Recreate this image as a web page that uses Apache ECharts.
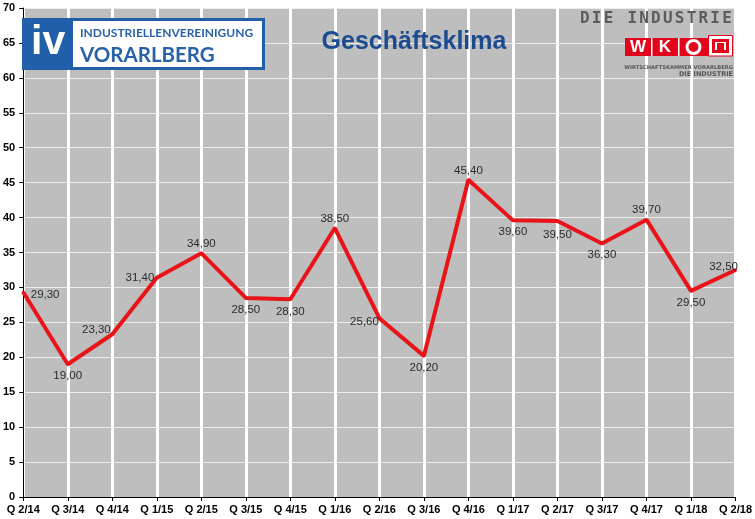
<!DOCTYPE html>
<html>
<head>
<meta charset="utf-8">
<script src="https://cdn.jsdelivr.net/npm/echarts@6/dist/echarts.min.js"></script>
<style>
html,body{margin:0;padding:0;background:#fff;}
#chart{width:755px;height:519px;}
</style>
</head>
<body>
<div id="chart"></div>
<script>
// ---- data ----
const categories = ['Q 2/14','Q 3/14','Q 4/14','Q 1/15','Q 2/15','Q 3/15','Q 4/15','Q 1/16','Q 2/16','Q 3/16','Q 4/16','Q 1/17','Q 2/17','Q 3/17','Q 4/17','Q 1/18','Q 2/18'];
const values = [29.3, 19.0, 23.3, 31.4, 34.9, 28.5, 28.3, 38.5, 25.6, 20.2, 45.4, 39.6, 39.5, 36.3, 39.7, 29.5, 32.5];
const yTicks = [0, 5, 10, 15, 20, 25, 30, 35, 40, 45, 50, 55, 60, 65, 70];
const titleText = 'Geschäftsklima';

// label placement (style only)
const labelPlacement = [
  {position:'right', offset:[2,3]},
  {position:'bottom', offset:[0,0]},
  {position:'left', offset:[4,-4]},
  {position:'left', offset:[3,0]},
  {position:'top', offset:[0,2]},
  {position:'bottom', offset:[0,0]},
  {position:'bottom', offset:[0,1]},
  {position:'top', offset:[0,2]},
  {position:'left', offset:[5,4]},
  {position:'bottom', offset:[0,0]},
  {position:'top', offset:[0,2]},
  {position:'bottom', offset:[0,0]},
  {position:'bottom', offset:[0,2]},
  {position:'bottom', offset:[0,0]},
  {position:'top', offset:[0,2]},
  {position:'bottom', offset:[0,0]},
  {position:'left', offset:[8,-3]}
];

const FONT = '"Liberation Sans", Arial, sans-serif';
const chart = echarts.init(document.getElementById('chart'), null, {renderer:'canvas'});

const seriesData = values.map((v, i) => ({
  value: v,
  label: {position: labelPlacement[i].position, offset: labelPlacement[i].offset}
}));

// WKO "DIE INDUSTRIE" spaced letters
const dieText = 'DIE INDUSTRIE';
const dieLetters = [];
for (let i = 0; i < dieText.length; i++) {
  if (dieText[i] === ' ') continue;
  dieLetters.push({
    type:'text', x: 580 + i*11.85, y: 19, z: 20,
    style:{text: dieText[i], font:'bold 16px "DejaVu Sans Mono", monospace', fill:'#5c5c5c', verticalAlign:'middle'}
  });
}

const graphics = [
  // IV logo
  {type:'rect', shape:{x:22, y:18, width:243, height:52}, style:{fill:'#2160a9'}, z:20},
  {type:'rect', shape:{x:73, y:21, width:189, height:46}, style:{fill:'#ffffff'}, z:21},
  {type:'text', x:31, y:43, z:22, style:{text:'iv', font:'bold 41px "Liberation Sans", Arial, sans-serif', fill:'#ffffff', verticalAlign:'middle'}},
  {type:'text', x:80, y:33, z:22, style:{text:'INDUSTRIELLENVEREINIGUNG', font:'bold 12px Lato, sans-serif', fill:'#2a62a8', verticalAlign:'middle'}},
  {type:'text', x:80, y:55, z:22, style:{text:'VORARLBERG', font:'bold 20.5px Lato, sans-serif', fill:'#2a62a8', verticalAlign:'middle'}},
  // WKO logo
  {type:'rect', shape:{x:625, y:38, width:83, height:18}, style:{fill:'#e3051b'}, z:20},
  {type:'rect', shape:{x:651, y:38, width:1.5, height:18}, style:{fill:'#ffffff'}, z:21},
  {type:'rect', shape:{x:678, y:38, width:1.5, height:18}, style:{fill:'#ffffff'}, z:21},
  {type:'text', x:638, y:47.5, z:22, style:{text:'W', font:'bold 17px "Liberation Sans", Arial, sans-serif', fill:'#ffffff', align:'center', verticalAlign:'middle'}},
  {type:'text', x:665, y:47.5, z:22, style:{text:'K', font:'bold 17px "Liberation Sans", Arial, sans-serif', fill:'#ffffff', align:'center', verticalAlign:'middle'}},
  {type:'circle', shape:{cx:693.5, cy:47, r:6.5}, style:{fill:'none', stroke:'#ffffff', lineWidth:3}, z:22},
  {type:'rect', shape:{x:708.5, y:35.5, width:24, height:20.5}, style:{fill:'#ffffff', stroke:'#e3051b', lineWidth:1}, z:20},
  {type:'rect', shape:{x:712, y:39, width:17, height:14}, style:{fill:'#e3051b'}, z:21},
  {type:'rect', shape:{x:715, y:42, width:11, height:8}, style:{fill:'#ffffff'}, z:22},
  {type:'rect', shape:{x:717, y:43, width:7, height:10}, style:{fill:'#e3051b'}, z:23},
  {type:'text', x:733, y:68, z:22, style:{text:'WIRTSCHAFTSKAMMER VORARLBERG', font:'bold 5.2px "DejaVu Sans", sans-serif', fill:'#555555', align:'right', verticalAlign:'middle'}},
  {type:'text', x:733, y:74, z:22, style:{text:'DIE INDUSTRIE', font:'bold 6.5px "DejaVu Sans", sans-serif', fill:'#555555', align:'right', verticalAlign:'middle'}},
  // Title
  {type:'text', x:414, y:42, z:22, style:{text:titleText, font:'bold 25px "Liberation Sans", Arial, sans-serif', fill:'#1d4b8f', align:'center', verticalAlign:'middle'}}
].concat(dieLetters);

chart.setOption({
  animation:false,
  backgroundColor:'#ffffff',
  grid:{left:23, right:18, top:8, bottom:22, show:true, backgroundColor:'#bebebe', borderWidth:0},
  xAxis:{
    type:'category', data:categories, boundaryGap:false,
    axisLine:{show:true, lineStyle:{color:'#000', width:1}},
    axisTick:{show:true, alignWithLabel:true, length:4, lineStyle:{color:'#000'}},
    axisLabel:{color:'#000', fontFamily:FONT, fontWeight:'bold', fontSize:11, margin:7, interval:0},
    splitLine:{show:true, lineStyle:{color:'#ffffff', width:3}}
  },
  yAxis:{
    type:'value', min:yTicks[0], max:yTicks[yTicks.length-1], interval:yTicks[1]-yTicks[0],
    axisLine:{show:true, lineStyle:{color:'#000', width:1}},
    axisTick:{show:true, length:4, lineStyle:{color:'#000'}},
    axisLabel:{color:'#000', fontFamily:FONT, fontWeight:'bold', fontSize:11, margin:8},
    splitLine:{show:true, lineStyle:{color:'#ececec', width:1}}
  },
  series:[{
    type:'line', data:seriesData,
    symbol:'circle', symbolSize:3, showSymbol:true,
    itemStyle:{color:'#e8141a'},
    lineStyle:{color:'#e8141a', width:4},
    label:{show:true, color:'#2b2b2b', fontFamily:FONT, fontSize:11.5, distance:4,
      formatter:p => p.value.toFixed(2).replace('.', ',')},
    z:10
  }],
  graphic:graphics
});
</script>
</body>
</html>
